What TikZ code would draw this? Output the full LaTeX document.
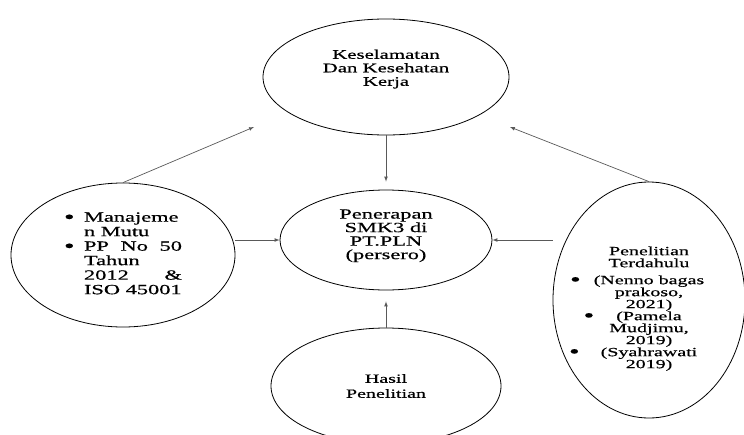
\documentclass[tikz,border=0pt]{standalone}
\usepackage{fontspec}
\setmainfont{Liberation Serif}[FakeStretch=1.6,FakeBold=0.6]
\usepackage{array}
\usetikzlibrary{arrows}
\usetikzlibrary{shapes.geometric}

\newcommand{\bigdot}{\raisebox{-1.5pt}{\fontsize{19}{19}\selectfont\textbullet}}

\begin{document}
\begin{tikzpicture}
  [x=1pt,y=-1pt,>=latex,
   main node/.style={ellipse,draw,line width=0.8pt,inner sep=0pt,align=center},
   link/.style={->,draw=black!65,line width=0.7pt}]
  \useasboundingbox (0,0) rectangle (744,434);
  \node[main node,minimum width=246,minimum height=116,font=\fontsize{13}{13.5}\selectfont]
    (Keselamatan) at (386,77) {Keselamatan\\Dan Kesehatan\\Kerja\\[5pt]\mbox{}};
  \node[main node,minimum width=212,minimum height=100,font=\fontsize{14}{13.5}\selectfont]
    (Penerapan) at (386,240) {Penerapan\\SMK3 di\\PT.PLN\\(persero)\\[-2pt]\mbox{}};
  \node[main node,minimum width=224,minimum height=144,font=\fontsize{14}{14.5}\selectfont]
    (Manajemen) at (123,255) {%
      \begin{tabular}{@{}p{20pt}@{}p{98pt}@{}}
        \bigdot & Manajeme\\
                & n Mutu\\
        \bigdot & \makebox[98pt][s]{PP\hfill No\hfill 50}\\
                & Tahun\\
                & \makebox[98pt][s]{2012\hfill \&}\\
                & ISO 45001
      \end{tabular}};
  \node[main node,minimum width=192,minimum height=236,font=\fontsize{12.5}{12}\selectfont]
    (Terdahulu) at (649,300) {\mbox{}\\[14pt]Penelitian\\Terdahulu\\[5pt]
      \llap{\bigdot\hspace{13pt}}(Nenno bagas\\prakoso,\\2021)\\
      \llap{\bigdot\hspace{22pt}}(Pamela\\Mudjimu,\\2019)\\
      \llap{\bigdot\hspace{21pt}}(Syahrawati\\2019)};
  \node[main node,minimum width=230,minimum height=116,font=\fontsize{12.5}{15}\selectfont]
    (Hasil) at (386,386) {Hasil\\Penelitian};
  \coordinate (KeselamatanL) at (254,127);
  \coordinate (KeselamatanR) at (510,127);

  \draw[link,shorten >=8pt] (Keselamatan) -- (Penerapan);
  \draw[link,shorten >=11pt] (Hasil) -- (Penerapan);
  \draw[link] (Manajemen.north) -- (KeselamatanL);
  \draw[link] (Terdahulu.north) -- (KeselamatanR);
  \draw[link] (Penerapan.west -| Manajemen.east) -- (Penerapan.west);
  \draw[link] (Penerapan.east -| Terdahulu.west) -- (Penerapan.east);

\end{tikzpicture}
\end{document}
